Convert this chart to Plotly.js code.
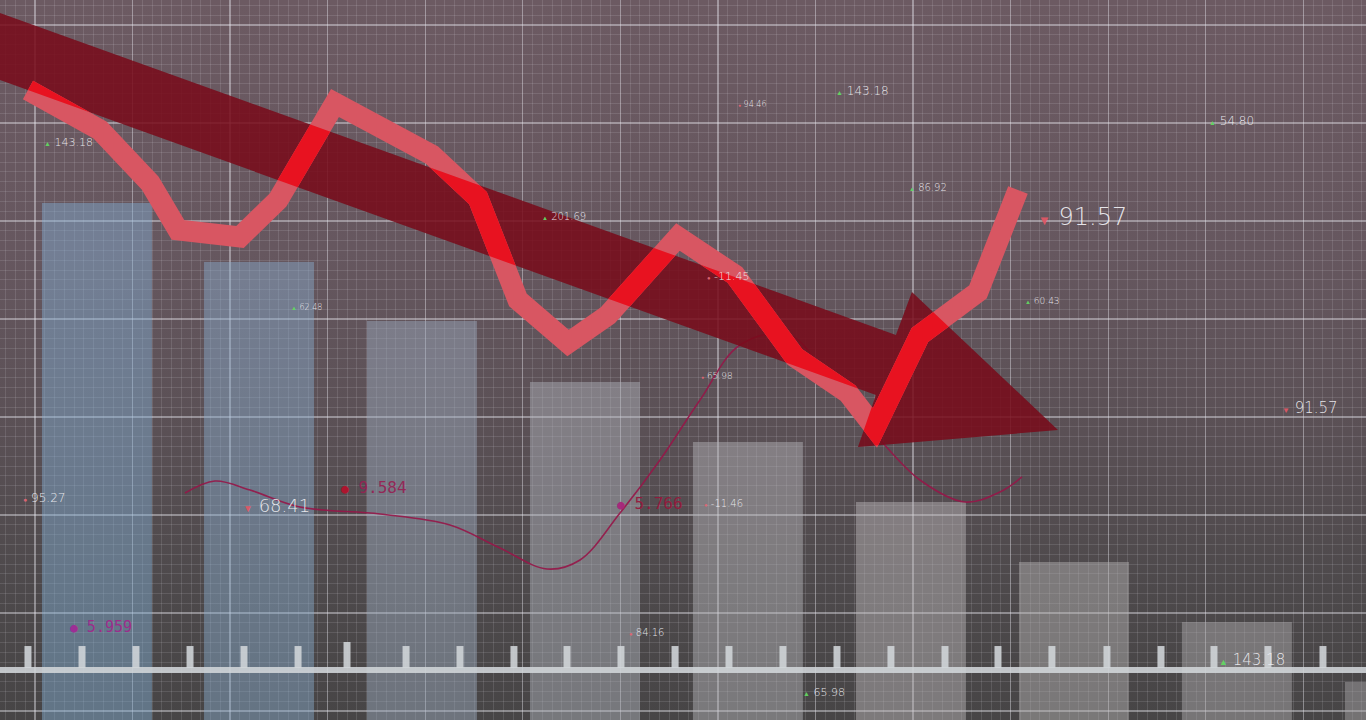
<!DOCTYPE html>
<html>
<head>
<meta charset="utf-8">
<script src="https://cdn.plot.ly/plotly-3.0.1.min.js"></script>
<style>
  html, body { margin: 0; padding: 0; overflow: hidden; }
  #chart {
    width: 1366px; height: 720px;
    background: linear-gradient(180deg, #6c5a62 0%, #66575f 35%, #5a5055 60%, #4d494b 82%, #474546 100%);
  }
</style>
</head>
<body>
<div id="chart"></div>
<script>
// ---------------- data ----------------
// bars (descending columns)
const barX   = [0.635, 2.296, 3.966, 5.637, 7.307, 8.978, 10.649, 12.319, 13.990];
const barTop = [5.184, 4.582, 3.980, 3.357, 2.745, 2.133, 1.520, 0.908, 0.296];

// thick red price line
const priceX = [-0.072, 0.666, 1.179, 1.466, 2.101, 2.491, 3.075, 4.069, 4.540, 4.950, 5.463, 5.873, 6.590, 7.174, 7.789, 8.333, 8.609, 9.070, 9.665, 10.075];
const priceY = [6.337, 5.929, 5.388, 4.908, 4.837, 5.214, 6.204, 5.673, 5.235, 4.194, 3.755, 4.041, 4.837, 4.449, 3.612, 3.245, 2.888, 3.837, 4.276, 5.316];

// thin smoothed curve
const curveX = [1.537, 1.845, 2.204, 2.716, 3.536, 4.253, 4.766, 5.248, 5.586, 5.996, 6.406, 6.816, 7.226, 7.738, 8.250, 8.660, 9.070, 9.532, 9.890, 10.116];
const curveY = [2.224, 2.347, 2.255, 2.082, 2.010, 1.898, 1.663, 1.449, 1.541, 2.020, 2.561, 3.173, 3.735, 3.837, 3.200, 2.765, 2.357, 2.133, 2.235, 2.388];

// big downward trend arrow outline
const arrowX = [-0.461, 8.824, 8.988, 10.485, 8.435, 8.619, -0.461];
const arrowY = [7.159, 3.837, 4.276, 2.867, 2.694, 3.224, 6.475];

// bottom ruler
const rulerY = 0.418;
const rulerTicks = [-0.072, 0.482, 1.035, 1.589, 2.142, 2.696, 3.198, 3.803, 4.356, 4.909, 5.453, 6.006, 6.560, 7.113, 7.666, 8.220, 8.773, 9.327, 9.870, 10.423, 10.987, 11.541, 12.084, 12.637, 13.201];
const rulerTickTop = [0.663, 0.663, 0.663, 0.663, 0.663, 0.663, 0.704, 0.663, 0.663, 0.663, 0.663, 0.663, 0.663, 0.663, 0.663, 0.663, 0.663, 0.663, 0.663, 0.663, 0.663, 0.663, 0.663, 0.663, 0.663];

// floating value labels
const labelText = ['143.18', '62.48', '201.69', '94.46', '143.18', '86.92', '91.57', '54.80', '60.43', '-11.45', '65.98', '91.57', '95.27', '68.41', '9.584', '5.766', '-11.46', '5.959', '84.16', '65.98', '143.18'];
const labelX    = [0.072, 2.603, 5.176, 7.185, 8.189, 8.937, 10.259, 12.012, 10.126, 6.867, 6.805, 12.760, -0.143, 2.111, 3.120, 5.945, 6.836, 0.340, 6.067, 7.851, 12.114];
const labelY    = [5.796, 4.122, 5.041, 6.184, 6.327, 5.337, 5.041, 6.020, 4.184, 4.429, 3.418, 3.092, 2.173, 2.092, 2.276, 2.122, 2.122, 0.857, 0.806, 0.184, 0.520];
const labelMark = ['up', 'up', 'up', 'dot', 'up', 'up', 'down', 'up', 'up', 'dot', 'dot', 'down', 'dot', 'down', 'big', 'big', 'dot', 'big', 'dot', 'up', 'up'];

// ---------------- styles ----------------
const labelSize = [11, 8, 10, 8, 12, 10, 24, 12, 9, 11, 9, 15, 12, 18, 16, 16, 10, 15, 10, 11, 15];
const barColors = [
  'rgba(130,175,212,0.45)', 'rgba(138,174,206,0.45)', 'rgba(158,174,192,0.45)',
  'rgba(178,182,190,0.45)', 'rgba(184,184,188,0.45)', 'rgba(190,186,188,0.45)',
  'rgba(184,181,182,0.45)', 'rgba(178,176,177,0.45)', 'rgba(170,169,170,0.45)'
];
const BASE = -0.5;
const tickColor = 'rgba(210,214,218,0.88)';

function markSpan(kind, size) {
  if (kind === 'up')   return '<span style="color:#62d862;font-size:' + Math.max(6, Math.round(size * 0.6)) + 'px">▲</span> ';
  if (kind === 'down') return '<span style="color:#e05866;font-size:' + Math.max(6, Math.round(size * 0.55)) + 'px">▼</span> ';
  if (kind === 'dot')  return '<span style="color:#e06674;font-size:' + Math.max(5, Math.round(size * 0.55)) + 'px">●</span> ';
  return '';
}

const annotations = labelText.map(function (t, i) {
  const s = labelSize[i];
  if (labelMark[i] === 'big') {
    const dotCol = i === 14 ? '#b3122c' : (i === 15 ? '#a8247a' : '#a02a96');
    const txtCol = i === 14 ? 'rgba(150,34,84,0.95)' : (i === 15 ? 'rgba(150,24,60,0.95)' : 'rgba(160,40,140,0.95)');
    return {
      x: labelX[i], y: labelY[i], xref: 'x', yref: 'y', showarrow: false,
      xanchor: 'left', yanchor: 'middle',
      text: '<span style="color:' + dotCol + ';font-size:13px">●</span> ' + t,
      font: { family: 'DejaVu Sans Mono, Liberation Mono, monospace', size: s, color: txtCol }
    };
  }
  return {
    x: labelX[i], y: labelY[i], xref: 'x', yref: 'y', showarrow: false,
    xanchor: 'left', yanchor: 'middle',
    text: markSpan(labelMark[i], s) + t,
    font: { family: 'DejaVu Sans, sans-serif', size: s, color: 'rgba(238,238,242,0.95)', weight: 300 }
  };
});

// ruler tick segments built from the tick table
const tickSegX = [], tickSegY = [];
rulerTicks.forEach(function (t, i) {
  tickSegX.push(t, t, null);
  tickSegY.push(0.439, rulerTickTop[i], null);
});

const traces = [
  {
    type: 'bar', x: barX, y: barTop.map(function (v) { return v - BASE; }), base: BASE,
    width: 1.127, marker: { color: barColors, line: { width: 0 } }, hoverinfo: 'skip'
  },
  {
    type: 'scatter', mode: 'lines', x: curveX, y: curveY,
    line: { color: 'rgba(150,22,72,0.9)', width: 1.6, shape: 'spline', smoothing: 1 }, hoverinfo: 'skip'
  },
  {
    type: 'scatter', mode: 'lines', x: arrowX, y: arrowY, fill: 'toself',
    fillcolor: 'rgba(120,10,26,0.86)', line: { width: 0, color: 'rgba(0,0,0,0)' }, hoverinfo: 'skip'
  },
  {
    type: 'scatter', mode: 'lines', x: priceX, y: priceY,
    line: { color: 'rgb(216,86,98)', width: 21 }, hoverinfo: 'skip'
  },
  {
    type: 'scatter', mode: 'lines', x: [-1, 15], y: [rulerY, rulerY],
    line: { color: tickColor, width: 6 }, hoverinfo: 'skip'
  },
  {
    type: 'scatter', mode: 'lines', x: tickSegX, y: tickSegY,
    line: { color: tickColor, width: 7 }, hoverinfo: 'skip'
  }
];

const axisCommon = {
  showticklabels: false, zeroline: false, ticks: '', showline: false,
  showgrid: true, dtick: 1, tick0: 0,
  gridcolor: 'rgba(236,236,242,0.42)', gridwidth: 1.3,
  minor: { dtick: 0.1, tick0: 0, showgrid: true, gridcolor: 'rgba(230,230,236,0.13)', gridwidth: 1 },
  fixedrange: true
};

const layout = {
  width: 1366, height: 720,
  margin: { l: 0, r: 0, t: 0, b: 0, pad: 0 },
  paper_bgcolor: 'rgba(0,0,0,0)', plot_bgcolor: 'rgba(0,0,0,0)',
  showlegend: false,
  xaxis: Object.assign({}, axisCommon, { range: [-0.3587, 13.642] }),
  yaxis: Object.assign({}, axisCommon, { range: [-0.0918, 7.255] }),
  annotations: annotations
};

Plotly.newPlot('chart', traces, layout, { staticPlot: true, displayModeBar: false }).then(function (gd) {
  // brighten the part of the red line that crosses the dark-red arrow
  const groups = gd.querySelectorAll('.scatterlayer .trace');
  const arrowG = groups[1], lineG = groups[2];
  if (!arrowG || !lineG) return;
  const fill = arrowG.querySelector('path.js-fill');
  const ln = lineG.querySelector('path.js-line');
  if (!fill || !ln) return;
  const svgNS = 'http://www.w3.org/2000/svg';
  const defs = gd.querySelector('svg.main-svg defs');
  const cp = document.createElementNS(svgNS, 'clipPath');
  cp.setAttribute('id', 'arrowClipBright');
  const p = document.createElementNS(svgNS, 'path');
  p.setAttribute('d', fill.getAttribute('d'));
  cp.appendChild(p);
  defs.appendChild(cp);
  const clone = ln.cloneNode(true);
  clone.style.stroke = 'rgb(232,18,32)';
  clone.style.strokeOpacity = '1';
  clone.setAttribute('clip-path', 'url(#arrowClipBright)');
  ln.parentNode.appendChild(clone);
});
</script>
</body>
</html>
